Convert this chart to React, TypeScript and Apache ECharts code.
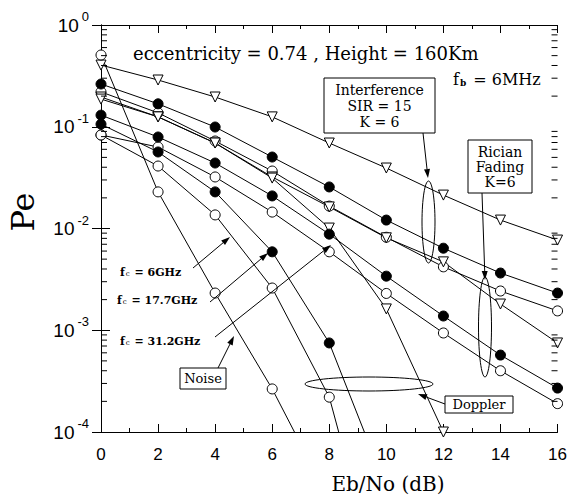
import { useEffect, useRef } from "react";
import * as echarts from "echarts";

// Eb/No (dB) at which the long curves are sampled
const ebno = [0, 2, 4, 6, 8, 10, 12, 14, 16];

// Long curves (Pe values at each ebno)
const triA = [0.404, 0.288, 0.196, 0.125, 0.0692, 0.0393, 0.0213, 0.0121, 0.0077];
const dotA = [0.263, 0.168, 0.0994, 0.0504, 0.0256, 0.0121, 0.0064, 0.00365, 0.00232];
const cirA = [0.22, 0.137, 0.0724, 0.0367, 0.0166, 0.0082, 0.0042, 0.00243, 0.00155];
const triB = [0.196, 0.125, 0.0692, 0.0321, 0.0163, 0.0081, 0.0047, 0.00181, 0.00075];
const dotB = [0.13, 0.0793, 0.044, 0.0209, 0.0088, 0.0034, 0.00138, 0.00057, 0.00027];
const cirB = [0.083, 0.0632, 0.0321, 0.0145, 0.0059, 0.0023, 0.00094, 0.0004, 0.00019];

// Steep (Doppler / noise) curves
const triCX = [0, 2, 4, 6, 8, 10, 12];
const triC = [0.187, 0.125, 0.0692, 0.0313, 0.0101, 0.00162, 0.0001];
const dotCX = [0, 2, 4, 6, 8, 9.23];
const dotC = [0.106, 0.0565, 0.0229, 0.0059, 0.00075, 0.0001];
const cirCX = [0, 2, 4, 6, 8, 8.33];
const cirC = [0.083, 0.0411, 0.0136, 0.0026, 0.00022, 0.0001];
const noiseX = [0, 2, 4, 6, 6.78];
const noiseY = [0.507, 0.0229, 0.00232, 0.000265, 0.0001];

// Axis
const xMin = 0, xMax = 16, xStep = 2;
const yMin = 1e-4, yMax = 1;
const decades = [-4, -3, -2, -1];
const mantissas = [2, 3, 4, 5, 6, 7, 8, 9];

const SERIF = "DejaVu Serif";
const SANS = "Liberation Sans";

type Kind = "tri" | "dot" | "cir";

function pairs(xs: number[], ys: number[], lastNoMark: boolean) {
  return ys.map((y, i) => {
    const item: any = { value: [xs[i], y] };
    if (lastNoMark && i === ys.length - 1) item.symbol = "none";
    return item;
  });
}

function makeSeries(name: string, kind: Kind, data: any[]) {
  const style =
    kind === "dot"
      ? { color: "#000", borderColor: "#000", borderWidth: 1 }
      : { color: "#fff", borderColor: "#000", borderWidth: 1 };
  return {
    name,
    type: "line",
    data,
    symbol: kind === "tri" ? "triangle" : "circle",
    symbolRotate: kind === "tri" ? 180 : 0,
    symbolSize: 10,
    lineStyle: { color: "#000", width: 1 },
    itemStyle: style,
    z: kind === "dot" ? 4 : 3,
    silent: true,
    clip: true,
  };
}

function arrow(x1: number, y1: number, x2: number, y2: number, len = 9, half = 3) {
  const dx = x2 - x1, dy = y2 - y1;
  const d = Math.hypot(dx, dy);
  const ux = dx / d, uy = dy / d;
  const bx = x2 - ux * len, by = y2 - uy * len;
  return [
    { type: "line", shape: { x1, y1, x2: bx, y2: by }, style: { stroke: "#000", lineWidth: 1 }, z: 10 },
    {
      type: "polygon",
      shape: { points: [[x2, y2], [bx - uy * half, by + ux * half], [bx + uy * half, by - ux * half]] },
      style: { fill: "#000" },
      z: 10,
    },
  ];
}

function box(x: number, y: number, w: number, h: number, lines: string[], size: number, lh: number) {
  return [
    { type: "rect", shape: { x, y, width: w, height: h }, style: { fill: "#fff", stroke: "#000", lineWidth: 1 }, z: 11 },
    {
      type: "text",
      x: x + w / 2,
      y: y + h / 2,
      style: {
        text: lines.join("\n"),
        font: `${size}px "${SERIF}"`,
        fill: "#000",
        align: "center",
        verticalAlign: "middle",
        lineHeight: lh,
      },
      z: 12,
    },
  ];
}

function fLabel(x: number, y: number, rest: string) {
  return {
    type: "text",
    x,
    y,
    style: {
      text: `{f|f}{s|c}{f| = ${rest}}`,
      rich: {
        f: { fontSize: 11, fontFamily: SERIF, fontWeight: "bold", fill: "#000" },
        s: { fontSize: 7, fontFamily: SERIF, fill: "#000", verticalAlign: "bottom", padding: [4, 1, 0, 1] },
      },
      verticalAlign: "middle",
    },
    z: 12,
  };
}

export default function App() {
  const ref = useRef<HTMLDivElement>(null);
  useEffect(() => {
    if (!ref.current) return;
    const chart = echarts.init(ref.current, undefined, { renderer: "svg" });

    const axisLine = { show: true, lineStyle: { color: "#000", width: 1 } };

    chart.setOption({
      animation: false,
      backgroundColor: "#fff",
      grid: { left: 101, top: 25, right: 12, bottom: 64 },
      xAxis: [
        {
          type: "value",
          min: xMin,
          max: xMax,
          interval: xStep,
          axisLine,
          axisTick: { show: true, inside: true, length: 8, lineStyle: { color: "#000" } },
          minorTick: { show: true, splitNumber: 2, length: 4, lineStyle: { color: "#000" } },
          axisLabel: { color: "#000", fontSize: 17, fontFamily: SANS, margin: 14 },
          splitLine: { show: false },
        },
        {
          type: "value",
          position: "top",
          min: xMin,
          max: xMax,
          interval: xStep,
          axisLine,
          axisTick: { show: true, inside: true, length: 8, lineStyle: { color: "#000" } },
          minorTick: { show: true, splitNumber: 2, length: 4, lineStyle: { color: "#000" } },
          axisLabel: { show: false },
          splitLine: { show: false },
        },
      ],
      yAxis: [
        {
          type: "log",
          logBase: 10,
          min: yMin,
          max: yMax,
          axisLine,
          axisTick: { show: true, inside: true, length: 9, lineStyle: { color: "#000" } },
          axisLabel: {
            color: "#000",
            margin: 12,
            formatter: (v: number) => `{b|10}{s|${Math.round(Math.log10(v))}}`,
            rich: {
              b: { fontSize: 19, fontFamily: SANS, lineHeight: 30 },
              s: { fontSize: 13, fontFamily: SANS, lineHeight: 16, verticalAlign: "top", padding: [0, 0, 0, 3] },
            },
          },
          splitLine: { show: false },
        },
        {
          type: "log",
          logBase: 10,
          position: "right",
          min: yMin,
          max: yMax,
          axisLine,
          axisTick: { show: true, inside: true, length: 9, lineStyle: { color: "#000" } },
          axisLabel: { show: false },
          splitLine: { show: false },
        },
      ],
      series: [
        makeSeries("triA", "tri", pairs(ebno, triA, false)),
        makeSeries("dotA", "dot", pairs(ebno, dotA, false)),
        makeSeries("cirA", "cir", pairs(ebno, cirA, false)),
        makeSeries("triB", "tri", pairs(ebno, triB, false)),
        makeSeries("dotB", "dot", pairs(ebno, dotB, false)),
        makeSeries("cirB", "cir", pairs(ebno, cirB, false)),
        makeSeries("triC", "tri", pairs(triCX, triC, false)),
        makeSeries("dotC", "dot", pairs(dotCX, dotC, true)),
        makeSeries("cirC", "cir", pairs(cirCX, cirC, true)),
        makeSeries("noise", "cir", pairs(noiseX, noiseY, true)),
      ],
    });

    // minor log ticks, positioned through the grid's own scales
    const minorTicks: any[] = [];
    decades.forEach((e) =>
      mantissas.forEach((m) => {
        const v = m * Math.pow(10, e);
        const l = chart.convertToPixel({ gridIndex: 0 }, [xMin, v]) as number[];
        const r = chart.convertToPixel({ gridIndex: 0 }, [xMax, v]) as number[];
        minorTicks.push(
          { type: "line", shape: { x1: l[0], y1: l[1], x2: l[0] + 6, y2: l[1] }, style: { stroke: "#000", lineWidth: 1 }, z: 20 },
          { type: "line", shape: { x1: r[0], y1: r[1], x2: r[0] - 6, y2: r[1] }, style: { stroke: "#000", lineWidth: 1 }, z: 20 }
        );
      })
    );

    const graphic: any[] = [
      ...minorTicks,
      {
        type: "text",
        x: 133,
        y: 53,
        style: { text: "eccentricity = 0.74 , Height = 160Km", font: `18px "${SERIF}"`, fill: "#000", verticalAlign: "middle" },
      },
      {
        type: "text",
        x: 453,
        y: 79,
        style: {
          text: "{a|f}{b|b}{a| = 6MHz}",
          rich: {
            a: { fontSize: 16, fontFamily: SERIF, fill: "#000" },
            b: { fontSize: 9, fontFamily: SERIF, fontWeight: "bold", fill: "#000", verticalAlign: "bottom", padding: [6, 2, 0, 1] },
          },
          verticalAlign: "middle",
        },
      },
      ...box(324, 78, 111, 55, ["Interference", "SIR = 15", "K = 6"], 14, 16),
      ...box(468, 140, 64, 53, ["Rician", "Fading", "K=6"], 14, 15),
      ...box(180, 368, 46, 21, ["Noise"], 13, 14),
      ...box(445, 396, 68, 17, ["Doppler"], 13, 14),
      ...arrow(423, 133, 428, 178),
      ...arrow(482, 193, 485, 280),
      ...arrow(445, 404, 418, 394),
      ...arrow(218, 368, 234, 336),
      ...arrow(193, 268, 230, 237),
      ...arrow(210, 302, 268, 253),
      ...arrow(215, 337, 331, 245),
      { type: "ellipse", shape: { cx: 428.5, cy: 222, rx: 6.5, ry: 41 }, style: { fill: "none", stroke: "#000", lineWidth: 1 }, z: 10 },
      { type: "ellipse", shape: { cx: 485, cy: 327, rx: 6.5, ry: 50 }, style: { fill: "none", stroke: "#000", lineWidth: 1 }, z: 10 },
      { type: "ellipse", shape: { cx: 369, cy: 384, rx: 64, ry: 7 }, style: { fill: "none", stroke: "#000", lineWidth: 1 }, z: 10 },
      fLabel(120, 272, "6GHz"),
      fLabel(117, 300, "17.7GHz"),
      fLabel(120, 341, "31.2GHz"),
      {
        type: "text",
        x: 23,
        y: 212,
        rotation: Math.PI / 2,
        style: { text: "Pe", font: `32px "${SERIF}"`, fill: "#000", align: "center", verticalAlign: "middle" },
      },
      {
        type: "text",
        x: 388,
        y: 484,
        style: { text: "Eb/No (dB)", font: `20px "${SERIF}"`, fill: "#000", align: "center", verticalAlign: "middle" },
      },
    ];

    chart.setOption({ graphic });
    return () => chart.dispose();
  }, []);
  return <div ref={ref} style={{ position: "fixed", left: 0, top: 0, width: 570, height: 496, background: "#fff" }} />;
}
